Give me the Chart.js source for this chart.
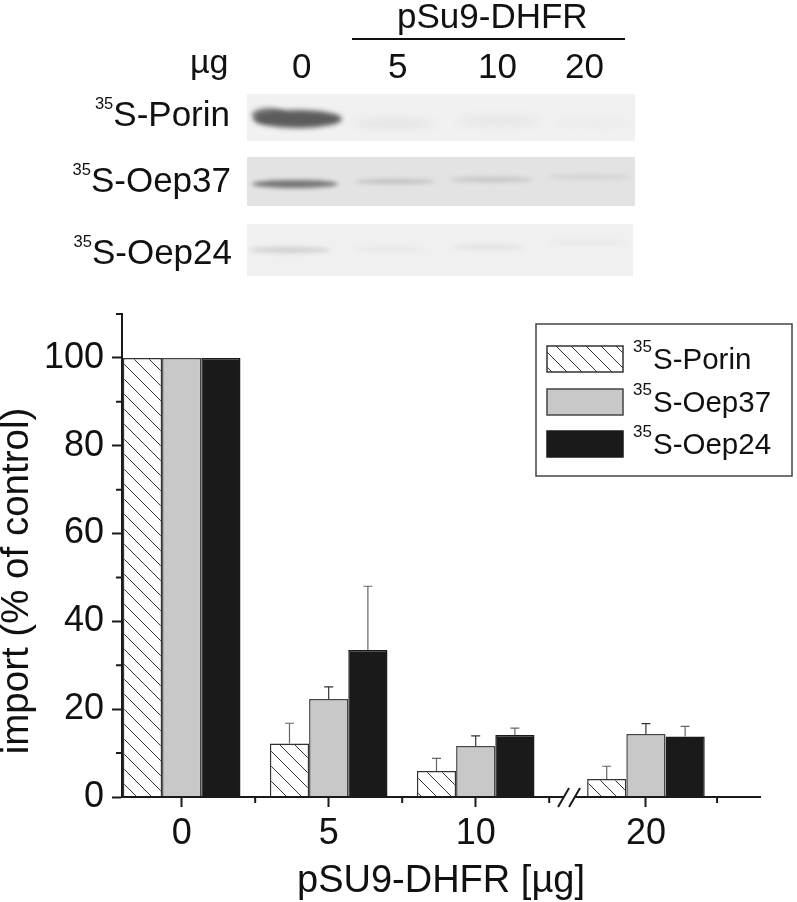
<!DOCTYPE html>
<html>
<head>
<meta charset="utf-8">
<script src="https://cdn.jsdelivr.net/npm/chart.js@4"></script>
<style>
  html, body { margin: 0; padding: 0; background: #fff; }
  #page { position: relative; width: 797px; height: 902px; overflow: hidden; font-family: "Liberation Sans", Arial, sans-serif; color: #111; }
  #importChart { position: absolute; left: 0; top: 0; }
  .label { position: absolute; white-space: nowrap; line-height: 1; font-size: 35px; }
  .label sup { font-size: 16.5px; line-height: 0; vertical-align: 17px; }
  .blot { position: absolute; left: 247px; width: 388px; overflow: hidden; }
  .band { position: absolute; border-radius: 50%; }
</style>
</head>
<body>
<div id="page">
  <canvas id="importChart" width="797" height="902"></canvas>

  <!-- gel header -->
  <div class="label" style="left:397px;top:-2px">pSu9-DHFR</div>
  <div style="position:absolute;left:352px;top:38px;width:273px;height:2px;background:#111"></div>
  <div class="label" style="left:190px;top:44px;font-size:34px">µg</div>
  <div class="label" style="left:292px;top:48px">0</div>
  <div class="label" style="left:388px;top:48px">5</div>
  <div class="label" style="left:478px;top:48px">10</div>
  <div class="label" style="left:565px;top:48px">20</div>
  <div class="label" style="right:567px;top:96px"><sup>35</sup>S-Porin</div>
  <div class="label" style="right:566px;top:162px"><sup>35</sup>S-Oep37</div>
  <div class="label" style="right:565px;top:234px"><sup>35</sup>S-Oep24</div>

  <!-- gel strips -->
  <div class="blot" style="top:94px;height:47px;background:#f1f1f1">
    <div class="band" style="left:5px;top:14px;width:34px;height:14px;background:#777;filter:blur(2.5px)"></div>
    <div class="band" style="left:7px;top:16px;width:88px;height:18px;background:#5c5c5c;filter:blur(2.5px)"></div>
    <div class="band" style="left:106px;top:25px;width:82px;height:9px;background:#e3e3e3;filter:blur(4px)"></div>
    <div class="band" style="left:210px;top:22px;width:84px;height:10px;background:#e5e5e5;filter:blur(4px)"></div>
    <div class="band" style="left:305px;top:24px;width:78px;height:9px;background:#ebebeb;filter:blur(4px)"></div>
  </div>
  <div class="blot" style="top:157px;height:49px;background:#e3e3e3">
    <div class="band" style="left:5px;top:23px;width:86px;height:8px;background:#757575;filter:blur(2px)"></div>
    <div class="band" style="left:108px;top:22px;width:80px;height:5px;background:#c0c0c0;filter:blur(2px)"></div>
    <div class="band" style="left:203px;top:20px;width:83px;height:5px;background:#c4c4c4;filter:blur(2px)"></div>
    <div class="band" style="left:300px;top:18px;width:83px;height:4px;background:#cecece;filter:blur(2px)"></div>
  </div>
  <div class="blot" style="top:224px;height:52px;width:386px;background:#f0f0f0">
    <div class="band" style="left:3px;top:23px;width:80px;height:6px;background:#d0d0d0;filter:blur(2px)"></div>
    <div class="band" style="left:108px;top:23px;width:70px;height:4px;background:#e6e6e6;filter:blur(2px)"></div>
    <div class="band" style="left:206px;top:21px;width:70px;height:4px;background:#dedede;filter:blur(2px)"></div>
    <div class="band" style="left:300px;top:17px;width:80px;height:4px;background:#e8e8e8;filter:blur(2px)"></div>
  </div>
</div>

<script>
const xLabels = ['0', '5', '10', '20'];
// last group sits past the axis break, so it is a bit further along
const xPositions = [0, 1, 2, 3.158];
const xMinorTicks = [0.5, 1.5, 2.5, 3.642];
const yTicks = [0, 20, 40, 60, 80, 100];
const yMinorTicks = [10, 30, 50, 70, 90, 110];
const breakAt = 2.635;

const seriesNames = ['S-Porin', 'S-Oep37', 'S-Oep24'];
const porinValues = [100, 12.2, 5.9, 4.1];
const oep37Values = [100, 22.3, 11.6, 14.35];
const oep24Values = [100, 33.5, 14.1, 13.8];
const porinErrors = [0, 4.6, 2.9, 2.9];
const oep37Errors = [0, 2.8, 2.3, 2.35];
const oep24Errors = [0, 14.5, 1.6, 2.3];

const axisColor = '#1a1a1a';

function makeHatch() {
  const tile = document.createElement('canvas');
  tile.width = 15;
  tile.height = 15;
  const t = tile.getContext('2d');
  t.fillStyle = '#fff';
  t.fillRect(0, 0, 15, 15);
  t.strokeStyle = '#333';
  t.lineWidth = 1;
  t.beginPath();
  t.moveTo(-2, -2);
  t.lineTo(17, 17);
  t.stroke();
  return document.getElementById('importChart').getContext('2d').createPattern(tile, 'repeat');
}
const hatch = makeHatch();

function toPoints(values) {
  return values.map((v, i) => ({x: xPositions[i], y: v}));
}

// error bars, only the upper half like the original
const errorBars = {
  id: 'errorBars',
  afterDatasetsDraw(chart) {
    const ctx = chart.ctx;
    const yScale = chart.scales.y;
    chart.data.datasets.forEach((ds, d) => {
      chart.getDatasetMeta(d).data.forEach((bar, i) => {
        if (!ds.errors[i]) return;
        const top = yScale.getPixelForValue(ds.data[i].y + ds.errors[i]);
        ctx.save();
        ctx.strokeStyle = ds.errorColor;
        ctx.lineWidth = 1.2;
        ctx.beginPath();
        ctx.moveTo(bar.x, bar.y);
        ctx.lineTo(bar.x, top);
        ctx.moveTo(bar.x - 4.5, top);
        ctx.lineTo(bar.x + 4.5, top);
        ctx.stroke();
        ctx.restore();
      });
    });
  }
};

// short ticks, axis break, y title and the legend box
const extras = {
  id: 'extras',
  afterDraw(chart) {
    const ctx = chart.ctx;
    const {x, y} = chart.scales;
    const base = y.getPixelForValue(0);
    ctx.save();
    ctx.strokeStyle = axisColor;
    ctx.lineWidth = 2;
    ctx.beginPath();
    xMinorTicks.forEach((v) => {
      const px = x.getPixelForValue(v);
      ctx.moveTo(px, base);
      ctx.lineTo(px, base + 6);
    });
    yMinorTicks.forEach((v) => {
      const py = y.getPixelForValue(v);
      ctx.moveTo(x.left, py);
      ctx.lineTo(x.left - 6, py);
    });
    ctx.stroke();

    // axis break
    const bx = x.getPixelForValue(breakAt);
    ctx.fillStyle = '#fff';
    ctx.fillRect(bx - 5, base - 2, 10.5, 4);
    ctx.beginPath();
    ctx.moveTo(bx - 11, base + 10);
    ctx.lineTo(bx, base - 9);
    ctx.moveTo(bx, base + 10);
    ctx.lineTo(bx + 11, base - 9);
    ctx.stroke();

    // y title
    ctx.save();
    ctx.translate(28, 581);
    ctx.rotate(-Math.PI / 2);
    ctx.fillStyle = '#111';
    ctx.font = '38.5px "Liberation Sans"';
    ctx.textAlign = 'center';
    ctx.fillText('import (% of control)', 0, 0);
    ctx.restore();

    // legend
    ctx.strokeStyle = '#444';
    ctx.lineWidth = 1.5;
    ctx.fillStyle = '#fff';
    ctx.fillRect(536, 324, 256, 152);
    ctx.strokeRect(536, 324, 256, 152);
    const swatchTops = [346, 389, 431];
    chart.data.datasets.forEach((ds, i) => {
      const top = swatchTops[i];
      ctx.fillStyle = ds.backgroundColor;
      ctx.strokeStyle = ds.borderColor;
      ctx.fillRect(547, top, 76, 26);
      ctx.strokeRect(547, top, 76, 26);
      ctx.fillStyle = '#111';
      ctx.font = '17px "Liberation Sans"';
      ctx.fillText('35', 633, top + 6);
      ctx.font = '29.5px "Liberation Sans"';
      ctx.fillText(ds.label, 653, top + 23);
    });
    ctx.restore();
  }
};

new Chart(document.getElementById('importChart').getContext('2d'), {
  type: 'bar',
  data: {
    datasets: [
      {label: seriesNames[0], data: toPoints(porinValues), errors: porinErrors, errorColor: '#666',
        backgroundColor: hatch, borderColor: '#333', borderWidth: 1.5},
      {label: seriesNames[1], data: toPoints(oep37Values), errors: oep37Errors, errorColor: '#333',
        backgroundColor: '#c8c8c8', borderColor: '#444', borderWidth: 1.5},
      {label: seriesNames[2], data: toPoints(oep24Values), errors: oep24Errors, errorColor: '#666',
        backgroundColor: '#1a1a1a', borderColor: '#1a1a1a', borderWidth: 1.5},
    ]
  },
  options: {
    responsive: false,
    animation: false,
    layout: {padding: {left: 0, right: 37, top: 314, bottom: 0}},
    datasets: {bar: {categoryPercentage: 0.8, barPercentage: 1}},
    plugins: {legend: {display: false}, tooltip: {enabled: false}},
    scales: {
      x: {
        type: 'linear',
        offset: false,
        min: -0.406,
        max: 3.934,
        afterBuildTicks(scale) {
          scale.ticks = xPositions.map((value) => ({value}));
        },
        afterFit(scale) { scale.height = 105; },
        ticks: {
          autoSkip: false,
          maxRotation: 0,
          padding: 5,
          color: '#111',
          font: {family: '"Liberation Sans"', size: 36},
          callback: (value, i) => xLabels[i],
        },
        grid: {offset: false, drawOnChartArea: false, tickLength: 10, tickWidth: 2, tickColor: axisColor, z: 1},
        border: {color: axisColor, width: 2, z: 1},
        title: {
          display: true,
          text: 'pSU9-DHFR [µg]',
          color: '#111',
          font: {family: '"Liberation Sans"', size: 38, lineHeight: 1},
          padding: {top: 0, bottom: 1},
        },
      },
      y: {
        min: 0,
        max: 110,
        afterBuildTicks(scale) {
          scale.ticks = yTicks.map((value) => ({value}));
        },
        afterFit(scale) { scale.width = 122; },
        ticks: {
          padding: 8,
          color: '#111',
          font: {family: '"Liberation Sans"', size: 36},
        },
        grid: {drawOnChartArea: false, tickLength: 10, tickWidth: 2, tickColor: axisColor, z: 1},
        border: {color: axisColor, width: 2, z: 1},
      }
    }
  },
  plugins: [errorBars, extras]
});
</script>
</body>
</html>
